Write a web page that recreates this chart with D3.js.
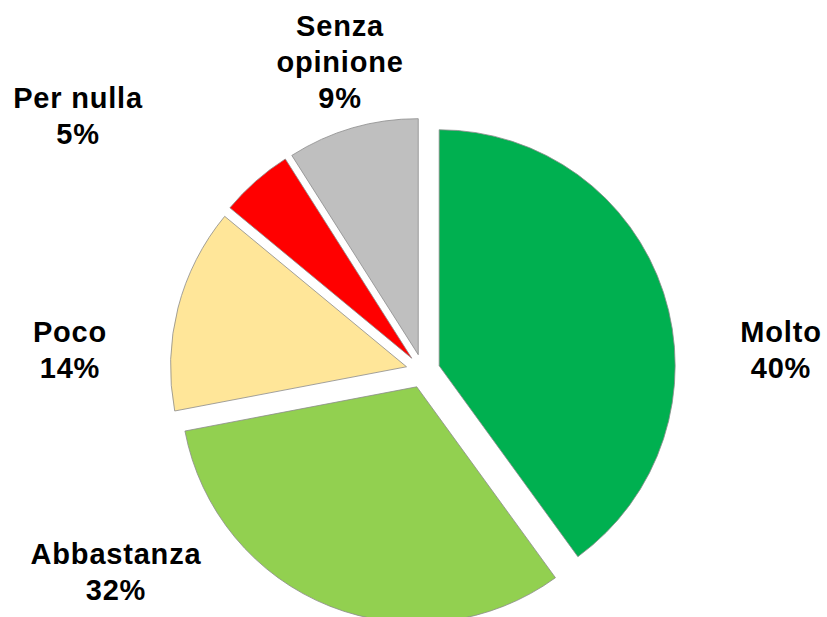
<!DOCTYPE html>
<html lang="it">
<head>
<meta charset="UTF-8">
<title>Pie</title>
<script src="https://cdnjs.cloudflare.com/ajax/libs/d3/7.8.5/d3.min.js"></script>
<style>
	body { margin: 0; background: #fff; }
	.lbl { font-family: "Liberation Sans", Arial, sans-serif; font-weight: bold; font-size: 29px; letter-spacing: 0.8px; fill: #000; }
</style>
</head>
<body>
<div id="chart"></div>
<script>
	// data
	var categories = ["Molto", "Abbastanza", "Poco", "Per nulla", "Senza opinione"];
	var values = [40, 32, 14, 5, 9];
	var colors = ["#00b050", "#92d050", "#ffe699", "#ff0000", "#bfbfbf"];
	var labelLines = [["Molto"], ["Abbastanza"], ["Poco"], ["Per nulla"], ["Senza", "opinione"]];

	var width = 827, height = 617;
	var cx = 423, cy = 371, radius = 236, explode = 17;

	// label anchor (centre of last line), layout only
	var labelAt = [[781, 378], [116, 600], [70, 378], [78, 144], [340, 108]];
	var lineH = 36;

	var svg = d3.select("#chart").append("svg")
		.attr("width", width)
		.attr("height", height);

	var pie = d3.pie().sort(null).value(function(d){ return d; });
	var arc = d3.arc().innerRadius(0).outerRadius(radius);
	var arcs = pie(values);

	var g = svg.append("g").attr("transform", "translate(" + cx + "," + cy + ")");

	g.selectAll("path").data(arcs)
		.enter().append("path")
			.attr("d", arc)
			.attr("fill", function(d,i){ return colors[i]; })
			.attr("stroke", "#8c8c8c")
			.attr("stroke-width", 0.8)
			.attr("transform", function(d){
				var a = (d.startAngle + d.endAngle) / 2;
				return "translate(" + (explode * Math.sin(a)) + "," + (-explode * Math.cos(a)) + ")";
			});

	// labels
	labelLines.forEach(function(lines, i){
		var all = lines.concat([values[i] + "%"]);
		var t = svg.append("text").attr("class", "lbl").attr("text-anchor", "middle");
		all.forEach(function(s, k){
			t.append("tspan")
				.attr("x", labelAt[i][0])
				.attr("y", labelAt[i][1] - (all.length - 1 - k) * lineH)
				.text(s);
		});
	});
</script>
</body>
</html>
